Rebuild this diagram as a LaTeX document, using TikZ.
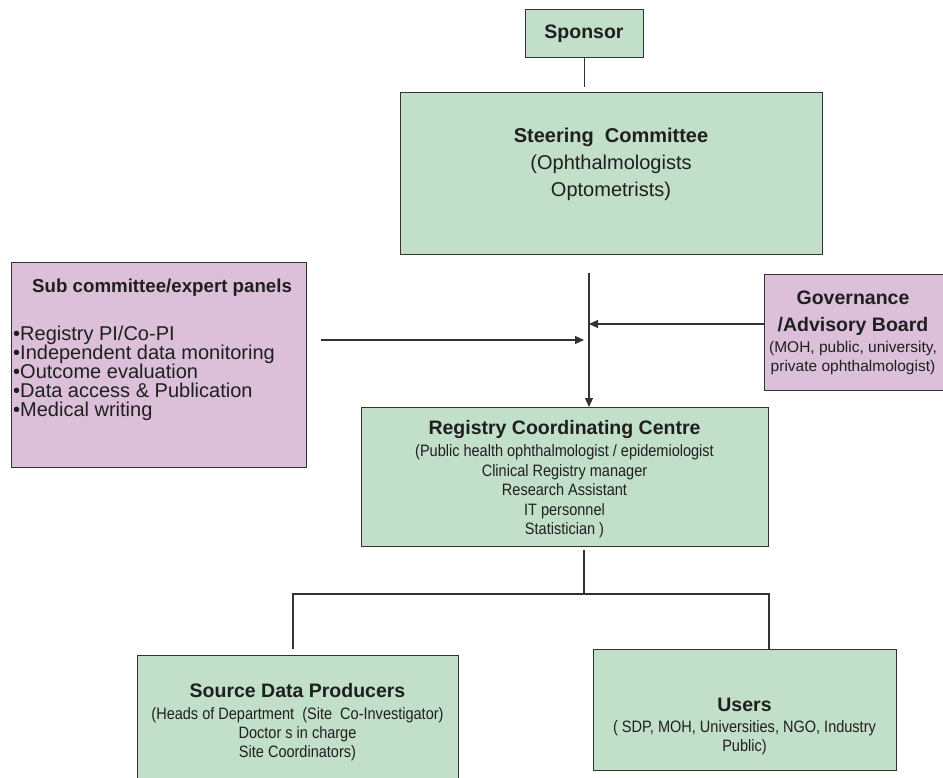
\documentclass[tikz,border=0pt]{standalone}
\usepackage{fontspec}
\setmainfont{Liberation Sans}
\newfontfamily\narrowf[FakeStretch=0.88]{Liberation Sans}
\usetikzlibrary{arrows.meta}
\definecolor{boxgreen}{HTML}{C2DFC9}
\definecolor{boxpurple}{HTML}{DCC0D9}
\definecolor{edgec}{HTML}{333333}
\definecolor{txt}{HTML}{1F1F1F}
\begin{document}
\begin{tikzpicture}[x=1pt,y=-1pt,
  gbox/.style={draw=edgec, line width=1.3pt, fill=boxgreen, inner sep=0pt, anchor=north west},
  pbox/.style={draw=edgec, line width=1.3pt, fill=boxpurple, inner sep=0pt, anchor=north west},
  ttl/.style={font=\bfseries\fontsize{19.5}{27}\selectfont, text=txt, align=center, inner sep=0pt},
  big/.style={font=\fontsize{20}{27}\selectfont, text=txt, align=center, inner sep=0pt},
  bul/.style={font=\fontsize{20}{19}\selectfont, text=txt, align=left, inner sep=0pt, anchor=west},
  small/.style={font=\fontsize{15.5}{19}\selectfont, text=txt, align=center, inner sep=0pt},
  narrowtxt/.style={font=\narrowf\fontsize{16.5}{19.5}\selectfont, text=txt, align=center, inner sep=0pt},
  conn/.style={draw=edgec, line width=1.2pt},
  arr/.style={conn, -{Triangle[length=9pt,width=8pt]}}]

\useasboundingbox (0,0) rectangle (943,778);
\clip (0,0) rectangle (943,778);

% boxes
\node[gbox, minimum width=118pt, minimum height=48pt] (sponsor) at (525,9) {};
\node[gbox, minimum width=422pt, minimum height=162pt] (steer) at (400,92) {};
\node[pbox, minimum width=295pt, minimum height=205pt] (sub) at (11,262) {};
\node[pbox, minimum width=182pt, minimum height=116pt] (gov) at (764,274) {};
\node[gbox, minimum width=407pt, minimum height=139pt] (reg) at (361,407) {};
\node[gbox, minimum width=321pt, minimum height=140pt] (src) at (137,655) {};
\node[gbox, minimum width=303pt, minimum height=121pt] (users) at (593,649) {};

% texts
\node[ttl] (sponsorT) at (584,34) {Sponsor};
\node[big] (steerT) at (611,164) {\textbf{Steering\ \ Committee}\\(Ophthalmologists\\Optometrists)};
\node[ttl, anchor=west, font=\bfseries\fontsize{18.7}{27}\selectfont] (subT) at (32,288) {Sub committee/expert panels};
\node[bul] (subB) at (13,373) {•Registry PI/Co-PI\\•Independent data monitoring\\•Outcome evaluation\\•Data access \& Publication\\•Medical writing};
\node[ttl] (govT) at (853,313) {Governance\\/Advisory Board};
\node[small] (govB) at (853,357.5) {(MOH, public, university,\\private ophthalmologist)};
\node[ttl] (regT) at (564.5,429) {Registry Coordinating Centre};
\node[narrowtxt] (regB) at (564.5,491.5) {(Public health ophthalmologist / epidemiologist\\Clinical Registry manager\\Research Assistant\\IT personnel\\Statistician )};
\node[ttl] (srcT) at (297.5,691) {Source Data Producers};
\node[narrowtxt, font=\narrowf\fontsize{16.5}{19}\selectfont] (srcB) at (297.5,734) {(Heads of Department\ \ (Site\ \ Co-Investigator)\\Doctor s in charge\\Site Coordinators)};
\node[ttl] (usersT) at (744.5,705) {Users};
\node[narrowtxt, font=\narrowf\fontsize{16.5}{19}\selectfont] (usersB) at (744.5,737.5) {( SDP, MOH, Universities, NGO, Industry\\Public)};

% connectors
\draw[conn, shorten >=5pt] (sponsor.south) -- (sponsor.south |- steer.north);
\coordinate (vtop) at (589,273);
\draw[arr] (vtop) -- (vtop |- reg.north);
\coordinate (subS) at (321,340);
\coordinate (subE) at (584,340);
\draw[arr] (subS) -- (subE);
\coordinate (govP) at (764,324);
\draw[arr] (govP) -- (vtop |- govP);
\coordinate (rb) at (584,550);
\coordinate (hl) at (293,594);
\coordinate (hr) at (769,594);
\coordinate (srcTop) at (293,649);
\draw[conn] (rb) -- (rb |- hl);
\draw[conn] (srcTop) -- (hl) -- (hr) -- (hr |- users.north);
\end{tikzpicture}
\end{document}
